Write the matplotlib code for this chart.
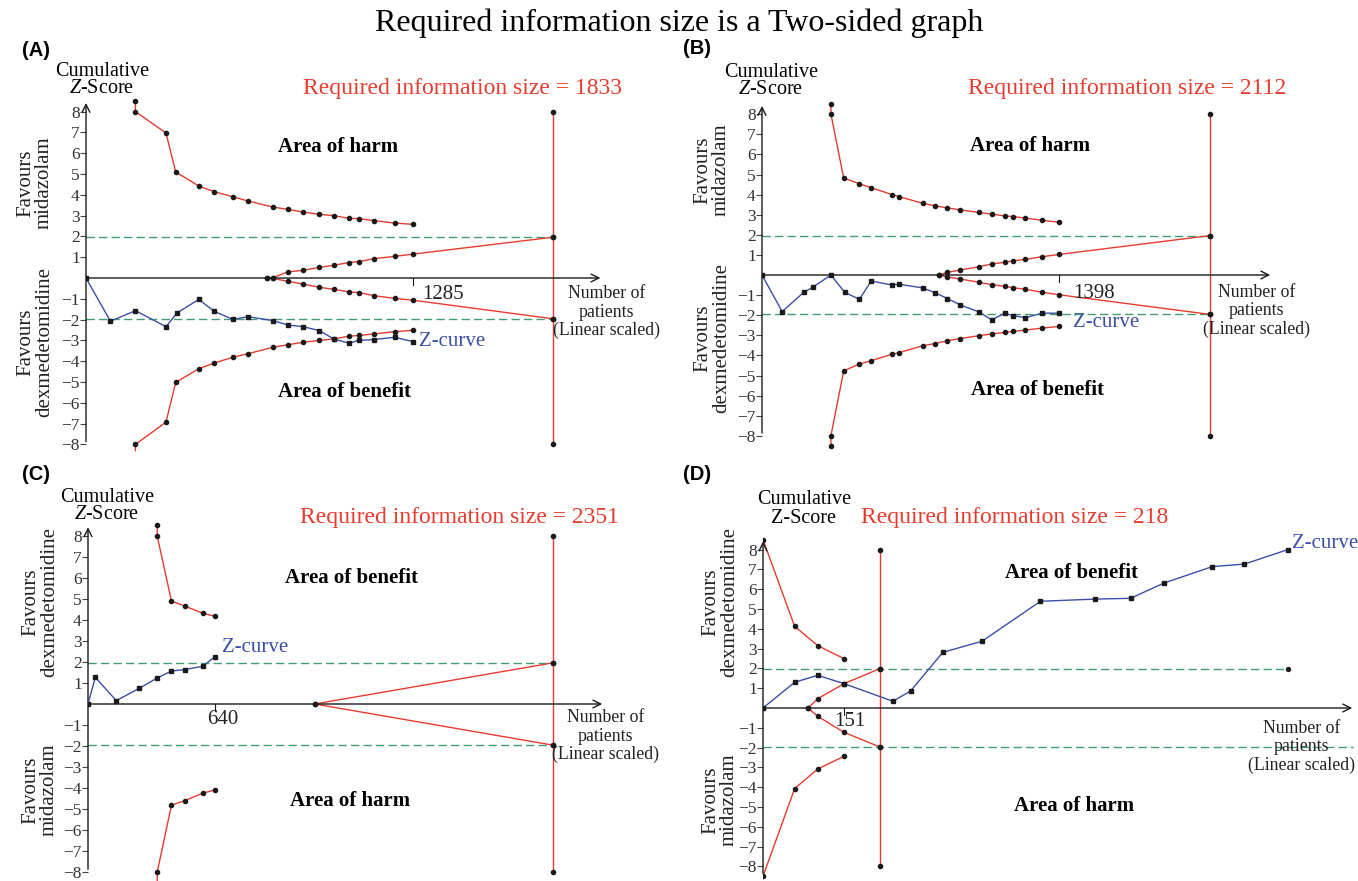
import matplotlib.pyplot as plt

W, H = 1358, 881

RED = '#e63b2e'
BLUE = '#3a4ea8'
GREEN = '#3f9e72'
INK = '#1a1a1a'

# ---- panel A (RIS 1833) ----
A_ris = 1833
A_last = 1285
A_bnd_n = [194, 194, 314, 352, 443, 503, 576, 636, 734, 792, 852, 916, 972, 1031, 1072, 1131, 1211, 1285]
A_upper = [8.5, 8.0, 6.97, 5.10, 4.42, 4.15, 3.91, 3.70, 3.41, 3.30, 3.17, 3.06, 3.00, 2.87, 2.85, 2.76, 2.64, 2.58]
A_lower = [-8.3, -8.0, -6.93, -5.02, -4.36, -4.09, -3.81, -3.64, -3.33, -3.21, -3.09, -3.00, -2.93, -2.80, -2.76, -2.69, -2.58, -2.52]
A_fut_n = [710, 734, 792, 852, 916, 972, 1031, 1072, 1131, 1211, 1285, 1833]
A_fut_up = [0, 0.02, 0.29, 0.37, 0.51, 0.61, 0.74, 0.79, 0.93, 1.04, 1.15, 1.96]
A_fut_lo = [0, -0.02, -0.16, -0.29, -0.45, -0.54, -0.67, -0.70, -0.85, -0.98, -1.07, -1.96]
A_z_n = [0, 96, 194, 314, 357, 443, 503, 576, 636, 734, 792, 852, 916, 972, 1031, 1072, 1131, 1211, 1285]
A_z = [0, -2.08, -1.57, -2.34, -1.68, -1.03, -1.60, -1.99, -1.86, -2.05, -2.26, -2.34, -2.53, -2.93, -3.13, -3.00, -2.96, -2.85, -3.06]

# ---- panel B (RIS 2112) ----
B_ris = 2112
B_last = 1398
B_bnd_n = [325, 325, 385, 456, 513, 613, 645, 757, 816, 874, 935, 1023, 1083, 1144, 1181, 1242, 1321, 1398]
B_upper = [8.5, 8.0, 4.83, 4.55, 4.35, 4.00, 3.90, 3.57, 3.44, 3.34, 3.24, 3.11, 3.03, 2.94, 2.91, 2.83, 2.72, 2.63]
B_lower = [-8.5, -8.0, -4.77, -4.44, -4.27, -3.94, -3.87, -3.52, -3.41, -3.27, -3.16, -3.02, -2.93, -2.86, -2.81, -2.74, -2.64, -2.56]
B_fut_n = [836, 874, 935, 1023, 1083, 1144, 1181, 1242, 1321, 1398, 2112]
B_fut_up = [0, 0.13, 0.25, 0.41, 0.55, 0.63, 0.70, 0.78, 0.91, 1.02, 1.96]
B_fut_lo = [0, -0.10, -0.20, -0.36, -0.48, -0.56, -0.63, -0.71, -0.86, -0.98, -1.96]
B_z_n = [0, 95, 197, 239, 325, 390, 459, 515, 613, 645, 757, 816, 874, 935, 1023, 1083, 1144, 1181, 1242, 1321, 1398]
B_z = [0, -1.82, -0.86, -0.61, 0.0, -0.86, -1.21, -0.30, -0.50, -0.46, -0.64, -0.88, -1.17, -1.49, -1.84, -2.23, -1.90, -2.02, -2.12, -1.90, -1.90]

# ---- panel C (RIS 2351) ----
C_ris = 2351
C_last = 640
C_bnd_n = [350, 350, 422, 490, 581, 640]
C_upper = [8.5, 8.0, 4.90, 4.66, 4.32, 4.18]
C_lower = [-8.4, -8.0, -4.82, -4.60, -4.24, -4.10]
C_fut_n = [1146, 2351]
C_fut_up = [0, 1.96]
C_fut_lo = [0, -1.96]
C_z_n = [0, 37, 143, 260, 350, 422, 490, 581, 640]
C_z = [0, 1.27, 0.16, 0.75, 1.24, 1.57, 1.64, 1.80, 2.24]

# ---- panel D (RIS 218) ----
D_ris = 218
D_last = 151
D_bnd_n = [0, 59, 102, 151]
D_upper = [8.5, 4.12, 3.15, 2.49]
D_lower = [-8.5, -4.07, -3.08, -2.44]
D_fut_n = [84, 102, 151, 218]
D_fut_up = [0, 0.47, 1.23, 1.99]
D_fut_lo = [0, -0.42, -1.23, -1.97]
D_z_n = [0, 59, 102, 151, 242, 275, 335, 408, 517, 619, 685, 747, 837, 897, 978]
D_z = [0, 1.30, 1.65, 1.23, 0.34, 0.86, 2.81, 3.37, 5.39, 5.50, 5.54, 6.31, 7.14, 7.27, 8.00]

y_ticks = [-8, -7, -6, -5, -4, -3, -2, -1, 1, 2, 3, 4, 5, 6, 7, 8]

plt.rcParams['font.family'] = ['Liberation Serif', 'DejaVu Serif']
plt.rcParams['mathtext.fontset'] = 'custom'
plt.rcParams['mathtext.rm'] = 'Liberation Serif'
plt.rcParams['mathtext.it'] = 'Liberation Serif:italic'

fig = plt.figure(figsize=(W / 100, H / 100), dpi=100)


def fpx(x, y):
    # figure pixel -> figure fraction
    return x / W, 1 - y / H


def make_axes(x0, x_ris, ris, zero_y, unit, xmax, ylo=-9.3, yhi=9.3):
    per = (x_ris - x0) / ris
    top = zero_y - yhi * unit
    bottom = zero_y - ylo * unit
    ax = fig.add_axes([x0 / W, 1 - bottom / H, xmax * per / W, (bottom - top) / H])
    ax.set_xlim(0, xmax)
    ax.set_ylim(ylo, yhi)
    for s in ax.spines.values():
        s.set_visible(False)
    ax.set_xticks([])
    ax.set_yticks(y_ticks)
    ax.set_yticklabels([str(t).replace('-', '\u2212') for t in y_ticks])
    ax.tick_params(axis='y', direction='out', length=4, width=0.8, color='#444444',
                   labelsize=12.5, pad=0.5, labelcolor='#333333')
    ax.patch.set_alpha(0)
    return ax


def draw_panel(ax, ris, last, xmax, bnd_n, upper, lower, fut_n, fut_up, fut_lo, z_n, z,
               lo_skip=0, y_bottom=-8.0, dash_end=None, dash_lo_end=None):
    # axes with arrows
    ax.annotate('', xy=(xmax, 0), xytext=(0, 0),
                arrowprops=dict(arrowstyle='->', color=INK, lw=1.0, mutation_scale=14))
    ax.annotate('', xy=(0, 8.55), xytext=(0, y_bottom),
                arrowprops=dict(arrowstyle='->', color=INK, lw=1.0, mutation_scale=14))
    # tick at last trial
    ax.plot([last, last], [0, -0.35], color=INK, lw=0.8)

    # conventional 1.96 lines
    ax.plot([0, dash_end or ris], [1.96, 1.96], ls=(0, (6, 3)), color=GREEN, lw=1.0, zorder=1)
    ax.plot([0, dash_lo_end or ris], [-1.96, -1.96], ls=(0, (6, 3)), color=GREEN, lw=1.0, zorder=1)
    if dash_end:
        ax.plot([dash_end], [1.96], 'o', color=INK, ms=2.8)

    mk = dict(color=RED, lw=1.0, marker='o', ms=3.0, mfc=INK, mec=INK)
    ax.plot(bnd_n, upper, **mk)
    ax.plot(bnd_n, lower, markevery=slice(lo_skip, None), **mk)
    ax.plot(fut_n, fut_up, **mk)
    ax.plot(fut_n, fut_lo, **mk)
    # required information size
    ax.plot([ris, ris], [-8, 8], **dict(mk, markevery=[0, 1]))
    ax.plot([ris, ris], [-1.96, 1.96], 'o', color=INK, ms=3.0)

    ax.plot(z_n, z, color=BLUE, lw=1.0, marker='s', ms=3.4, mfc=INK, mec=INK, zorder=4)


def side_labels(xc, y_up, y_lo, up_txt, lo_txt):
    fig.text(*fpx(xc, y_up), up_txt, rotation=90, ha='center', va='center',
             multialignment='center', fontsize=15, color='#222222', linespacing=1.0)
    fig.text(*fpx(xc, y_lo), lo_txt, rotation=90, ha='center', va='center',
             multialignment='center', fontsize=15, color='#222222', linespacing=1.0)


def notes(ax, ris_xy, ris_txt, top_xy, top_txt, bot_xy, bot_txt, zc_xy, last_xy, last_txt, last_ha, np_xy):
    ax.text(*ris_xy, ris_txt, color=RED, fontsize=17, ha='center', va='center')
    ax.text(*top_xy, top_txt, fontsize=15, fontweight='bold', ha='center', va='center')
    ax.text(*bot_xy, bot_txt, fontsize=15, fontweight='bold', ha='center', va='center')
    ax.text(*zc_xy, 'Z-curve', color=BLUE, fontsize=15, ha='left', va='center')
    ax.text(*last_xy, last_txt, fontsize=15, ha=last_ha, va='center', color='#222222')
    ax.text(*np_xy, 'Number of\npatients\n(Linear scaled)', fontsize=12.8, ha='center', va='top',
            linespacing=1.1, color='#222222')


fig.text(0.5, 1 - 23 / H, 'Required information size is a Two-sided graph', ha='center', va='center',
         fontsize=23)
for lab, x, y in [('(A)', 22, 50), ('(B)', 683, 49), ('(C)', 22, 474), ('(D)', 683, 474)]:
    fig.text(*fpx(x, y), lab, family='Liberation Sans', fontweight='bold', fontsize=14.5, va='center')

cum = 'Cumulative\n$\\it{Z}$-Score'
fig.text(*fpx(102, 80), cum, ha='center', va='center', fontsize=14.5, linespacing=0.9)
fig.text(*fpx(771, 81), cum, ha='center', va='center', fontsize=14.5, linespacing=0.9)
fig.text(*fpx(107, 506), cum, ha='center', va='center', fontsize=14.5, linespacing=0.9)
fig.text(*fpx(804, 509), 'Cumulative\nZ-Score', ha='center', va='center', fontsize=14.5, linespacing=1.0)

# A
axA = make_axes(86, 553, A_ris, 278, 20.8, 2030)
draw_panel(axA, A_ris, A_last, 2030, A_bnd_n, A_upper, A_lower, A_fut_n, A_fut_up, A_fut_lo,
           A_z_n, A_z, lo_skip=1)
notes(axA, (1476, 9.13), 'Required information size = 1833', (988, 6.3), 'Area of harm',
      (1013, -5.5), 'Area of benefit', (1309, -3.05), (1320, -0.8), '1285', 'left', (2042, -0.35))
side_labels(35, 183, 342, 'Favours\nmidazolam', 'Favours\ndexmedetomidine')

# B
axB = make_axes(762, 1210, B_ris, 275, 20.1, 2409)
draw_panel(axB, B_ris, B_last, 2409, B_bnd_n, B_upper, B_lower, B_fut_n, B_fut_up, B_fut_lo,
           B_z_n, B_z)
notes(axB, (1722, 9.27), 'Required information size = 2112', (1266, 6.4), 'Area of harm',
      (1298, -5.7), 'Area of benefit', (1465, -2.34), (1469, -0.9), '1398', 'left', (2331, -0.45))
side_labels(712, 170, 338, 'Favours\nmidazolam', 'Favours\ndexmedetomidine')

# C
axC = make_axes(88, 553, C_ris, 704, 21.0, 2614)
draw_panel(axC, C_ris, C_last, 2614, C_bnd_n, C_upper, C_lower, C_fut_n, C_fut_up, C_fut_lo,
           C_z_n, C_z, lo_skip=1)
notes(axC, (1880, 8.87), 'Required information size = 2351', (1331, 6.0), 'Area of benefit',
      (1324, -4.64), 'Area of harm', (680, 2.7), (682, -0.75), '640', 'center', (2615, -0.25))
side_labels(40, 602, 790, 'Favours\ndexmedetomidine', 'Favours\nmidazolam')

# D
axD = make_axes(763, 880, D_ris, 708, 19.8, 1103)
draw_panel(axD, D_ris, D_last, 1103, D_bnd_n, D_upper, D_lower, D_fut_n, D_fut_up, D_fut_lo,
           D_z_n, D_z, y_bottom=-8.5, dash_end=978, dash_lo_end=1100)
notes(axD, (469, 9.6), 'Required information size = 218', (575, 6.8), 'Area of benefit',
      (579, -4.97), 'Area of harm', (986, 8.3), (162, -0.67), '151', 'center', (1004, -0.6))
side_labels(720, 602, 800, 'Favours\ndexmedetomidine', 'Favours\nmidazolam')

fig.savefig('out.png', dpi=100)
